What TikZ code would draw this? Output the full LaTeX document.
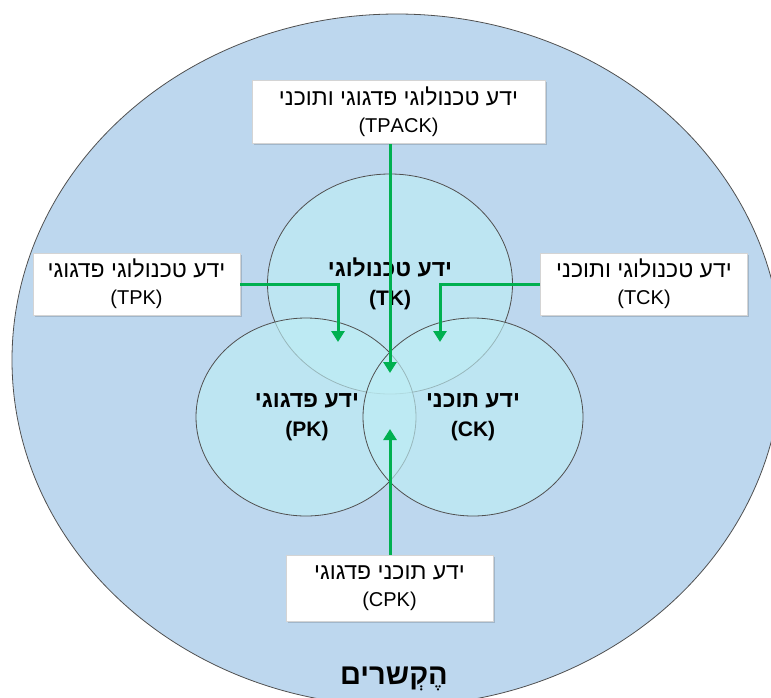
\documentclass[tikz,border=0pt]{standalone}
\usepackage{fontspec}
\setmainfont{Liberation Sans}
\newfontfamily\hebfont[Script=Hebrew]{Liberation Sans}
\TeXXeTstate=1
\usetikzlibrary{shapes.geometric,arrows.meta,shadows}

\definecolor{ctxblue}{RGB}{189,215,238}
\definecolor{domcyan}{RGB}{190,238,245}
\definecolor{arrgreen}{RGB}{0,176,80}
\definecolor{edgegray}{RGB}{80,80,80}
\definecolor{boxgray}{RGB}{212,212,212}

% a right-to-left Hebrew line, set a little larger than the Latin line below it
\newcommand{\hebline}[1]{{\fontsize{23}{27}\selectfont\beginR #1\endR}}

\begin{document}
\begin{tikzpicture}[x=1pt,y=-1pt,
  domshape/.style={ellipse, draw=edgegray, line width=0.8pt, fill=domcyan,
    fill opacity=0.65, inner sep=0},
  infobox/.style={rectangle, draw=boxgray, line width=0.6pt, fill=white,
    minimum width=207pt, minimum height=62pt, align=center, inner sep=0,
    font=\hebfont\fontsize{20}{27}\selectfont,
    drop shadow={shadow xshift=1.5pt, shadow yshift=-1.5pt, opacity=0.15, fill=black}},
  domlabel/.style={align=center, font=\hebfont\bfseries\fontsize{21}{29}\selectfont},
  arr/.style={draw=arrgreen, line width=3pt, -{Triangle[width=13pt,length=11pt]}}
]
\useasboundingbox (0,0) rectangle (771,697);

% outer context ellipse, cut by the page edge
\begin{scope}
  \clip (0,0) rectangle (771,697);
  \node[ellipse, draw=edgegray, line width=0.8pt, fill=ctxblue,
        minimum width=770pt, minimum height=692pt, inner sep=0] (ctx) at (397,360) {};
\end{scope}

% the three knowledge domains
\node[domshape, minimum width=245pt, minimum height=220pt] (tk) at (390,284) {};
\node[domshape, minimum width=220pt, minimum height=198pt] (pk) at (306,417) {};
\node[domshape, minimum width=220pt, minimum height=198pt] (ck) at (473,417) {};

\node[domlabel] (tkl) at (390,284) {\hebline{ידע טכנולוגי}\\(TK)};
\node[domlabel] (pkl) at (307,417) {\hebline{ידע פדגוגי}\\(PK)};
\node[domlabel] (ckl) at (473,417) {\hebline{ידע תוכני}\\(CK)};

\node[font=\hebfont\bfseries\fontsize{29}{32}\selectfont] (ctxl) at (394,679) {\beginR הֶקְשרים\endR};

% intersection boxes
\node[infobox, minimum width=293pt, minimum height=63pt] (tpack) at (398.5,112)
  {\hebline{ידע טכנולוגי פדגוגי ותוכני}\\(TPACK)};
\node[infobox] (tpk) at (136.5,284) {\hebline{ידע טכנולוגי פדגוגי}\\(TPK)};
\node[infobox] (tck) at (644,284) {\hebline{ידע טכנולוגי ותוכני}\\(TCK)};
\node[infobox, minimum height=66pt] (cpk) at (389.5,588) {\hebline{ידע תוכני פדגוגי}\\(CPK)};

% arrow targets
\coordinate (tpackTip) at (390,373);
\coordinate (tpkTip) at (338,342);
\coordinate (tckTip) at (440,342);
\coordinate (cpkTip) at (390,429);

\draw[arr] (tpack.south -| tpackTip) -- (tpackTip);
\draw[arr] (tpk.east) -| (tpkTip);
\draw[arr] (tck.west) -| (tckTip);
\draw[arr] (cpk.north -| cpkTip) -- (cpkTip);
\end{tikzpicture}
\end{document}
